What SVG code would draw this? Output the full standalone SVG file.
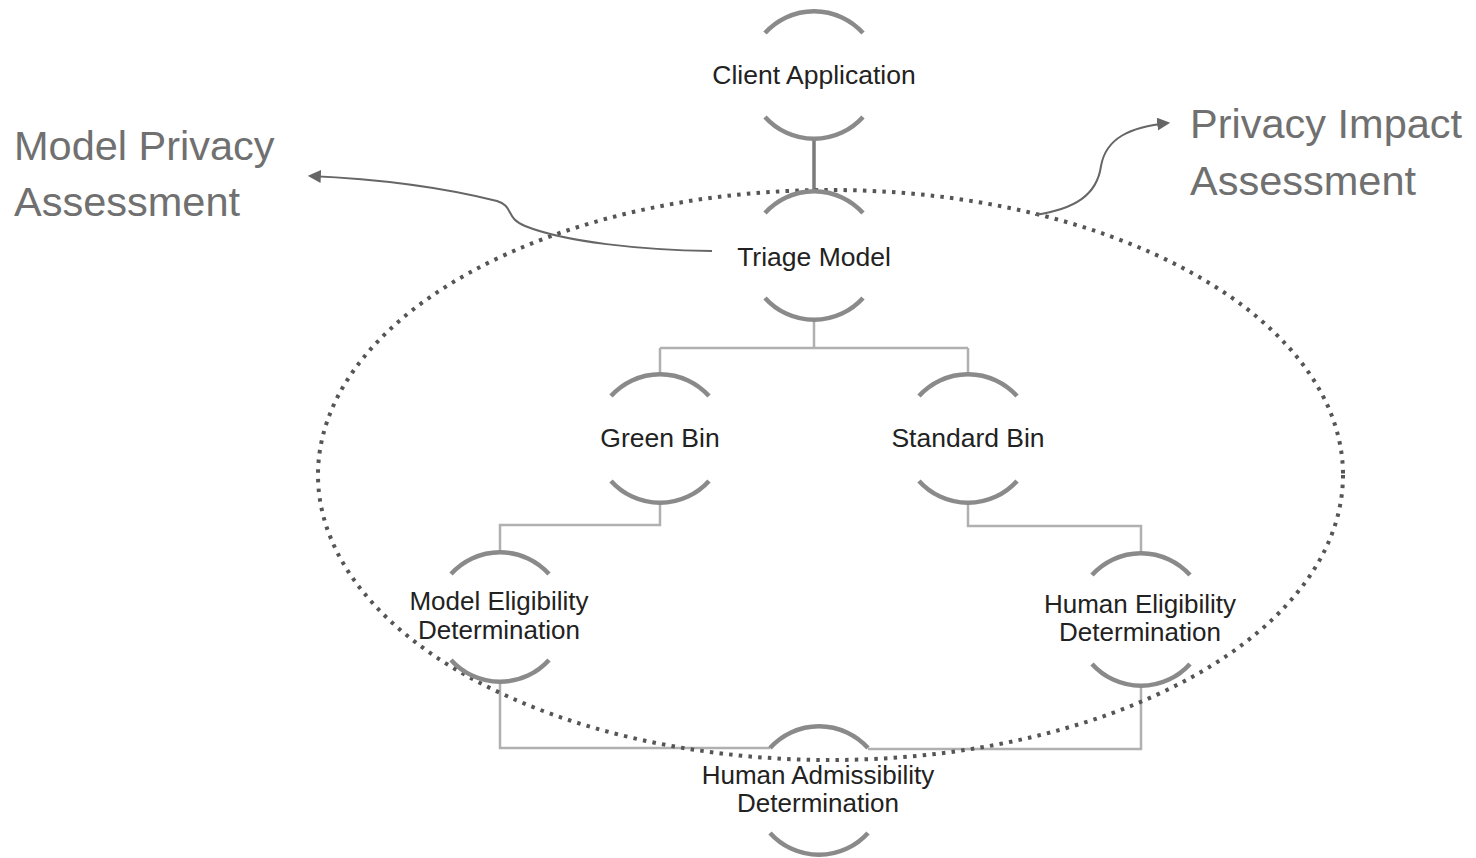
<svg xmlns="http://www.w3.org/2000/svg" width="1476" height="858" viewBox="0 0 1476 858">
<defs>
<style>
.arc{fill:none;stroke:#8a8a8a;stroke-width:4.5;stroke-linecap:butt}
.lbl{font-family:"Liberation Sans",Arial,sans-serif;font-size:26.5px;fill:#222;text-anchor:middle}
.lbl2{font-family:"Liberation Sans",Arial,sans-serif;font-size:26px;fill:#222;text-anchor:middle}
.big{font-family:"Liberation Sans",Arial,sans-serif;font-size:41.5px;fill:#707070}
.conn{fill:none;stroke:#b0b0b0;stroke-width:2.5}
.conn-dark{fill:none;stroke:#7a7a7a;stroke-width:3.5}
.arrow{fill:none;stroke:#666;stroke-width:2}
.dots{fill:none;stroke:#555;stroke-width:4;stroke-dasharray:3.5 6.2}
</style>
<marker id="ah" viewBox="0 0 12 12" refX="10" refY="6" markerWidth="13" markerHeight="13" markerUnits="userSpaceOnUse" orient="auto">
<path d="M0,0 L12,6 L0,12 z" fill="#666"/>
</marker>
</defs>
<rect width="1476" height="858" fill="#fff"/>

<g id="connectors">
<path class="conn-dark" d="M814,138 V192"/>
<path class="conn" d="M814,320 V348 M660,348 H968 M660,348 V373 M968,348 V373"/>
<path class="conn" d="M660,503 V525 H500 V552"/>
<path class="conn" d="M968,503 V526 H1141 V553"/>
<path class="conn" d="M500,682 V748 H770"/>
<path class="conn" d="M1141,687 V749 H868"/>
</g>

<g id="ellipse">
<ellipse class="dots" cx="830.5" cy="475" rx="512.5" ry="285"/>
</g>

<g id="node-client">
<path class="arc" d="M765,33 A66,66 0 0 1 863,33"/>
<path class="arc" d="M765,117 A66,66 0 0 0 863,117"/>
<text class="lbl" x="814" y="84">Client Application</text>
</g>

<g id="node-triage">
<path class="arc" d="M765,213 A66,66 0 0 1 863,213"/>
<path class="arc" d="M765,298 A66,66 0 0 0 863,298"/>
<text class="lbl" x="814" y="266">Triage Model</text>
</g>

<g id="node-green">
<path class="arc" d="M611,396 A66,66 0 0 1 709,396"/>
<path class="arc" d="M611,481 A66,66 0 0 0 709,481"/>
<text class="lbl" x="660" y="447">Green Bin</text>
</g>

<g id="node-standard">
<path class="arc" d="M919,396 A66,66 0 0 1 1017,396"/>
<path class="arc" d="M919,481 A66,66 0 0 0 1017,481"/>
<text class="lbl" x="968" y="447">Standard Bin</text>
</g>

<g id="node-model-elig">
<path class="arc" d="M451,574 A66,66 0 0 1 549,574"/>
<path class="arc" d="M451,660 A66,66 0 0 0 549,660"/>
<text class="lbl2" x="499" y="610">Model Eligibility</text>
<text class="lbl2" x="499" y="639">Determination</text>
</g>

<g id="node-human-elig">
<path class="arc" d="M1092,575 A66,66 0 0 1 1190,575"/>
<path class="arc" d="M1092,664 A66,66 0 0 0 1190,664"/>
<text class="lbl2" x="1140" y="613">Human Eligibility</text>
<text class="lbl2" x="1140" y="641">Determination</text>
</g>

<g id="node-human-adm">
<path class="arc" d="M770,748 A66,66 0 0 1 868,748"/>
<path class="arc" d="M770,833 A66,66 0 0 0 868,833"/>
<text class="lbl2" x="818" y="784">Human Admissibility</text>
<text class="lbl2" x="818" y="812">Determination</text>
</g>

<g id="model-privacy">
<path class="arrow" marker-end="url(#ah)" d="M712,251 C640,250 565,242 525,226 C505,218 514,206 497,201 C445,188 380,179 310,176"/>
<text class="big" x="14" y="160">Model Privacy</text>
<text class="big" x="14" y="216">Assessment</text>
</g>

<g id="privacy-impact">
<path class="arrow" marker-end="url(#ah)" d="M1035,215 C1075,209 1097,195 1101,166 C1106,138 1130,127 1168,123"/>
<text class="big" x="1190" y="138">Privacy Impact</text>
<text class="big" x="1190" y="195">Assessment</text>
</g>
</svg>
